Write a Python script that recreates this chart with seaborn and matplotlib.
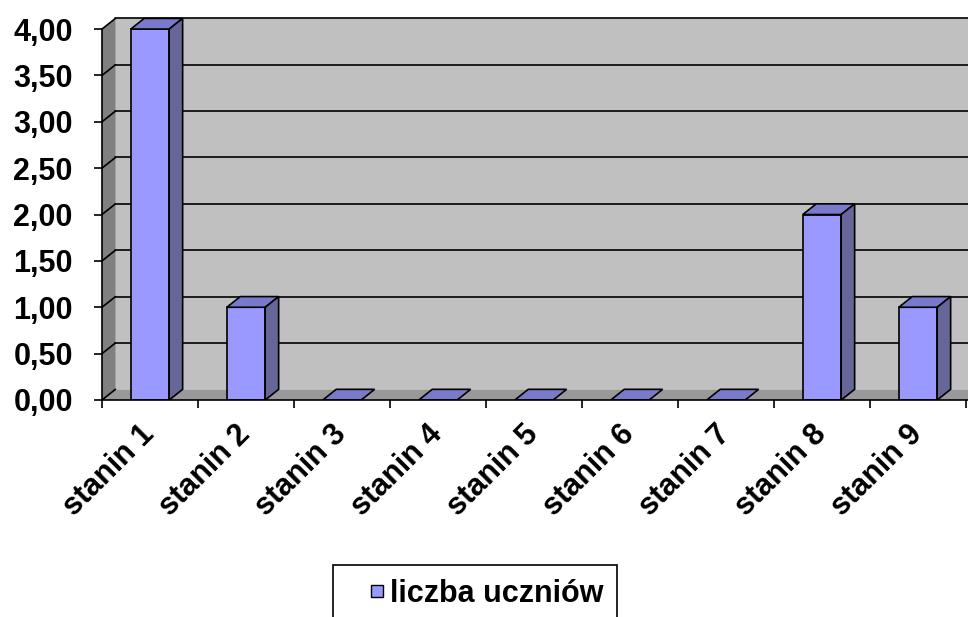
import numpy as np
import seaborn as sns
import matplotlib.pyplot as plt
import matplotlib.transforms as mtrans
from matplotlib.patches import Polygon, Rectangle
from matplotlib.lines import Line2D
from matplotlib.colors import to_rgb
from matplotlib.ticker import FuncFormatter

categories = ['stanin 1', 'stanin 2', 'stanin 3', 'stanin 4', 'stanin 5',
              'stanin 6', 'stanin 7', 'stanin 8', 'stanin 9']
values = [4, 1, 0, 0, 0, 0, 0, 2, 1]
series_name = 'liczba uczniów'
y_ticks = [0, 0.5, 1, 1.5, 2, 2.5, 3, 3.5, 4]

sns.set_style('white', {'text.color': 'black', 'xtick.color': 'black',
                        'ytick.color': 'black', 'axes.labelcolor': 'black'})
plt.rcParams['font.family'] = ['Liberation Sans', 'DejaVu Sans']
plt.rcParams['font.weight'] = 'bold'

front = '#9999FF'
side = '#666699'
top = '#7A7ACC'
dx, dy = 0.14, 0.115   # depth offset in data units
fs = 22

fig = plt.figure(figsize=(9.68, 6.17), dpi=100)
ax = fig.add_axes([102 / 968, 217 / 617, 866 / 968, 389.5 / 617])

sns.barplot(x=categories, y=values, color=front, width=0.4, edgecolor='black',
            linewidth=1.2, saturation=1, ax=ax, zorder=3)

ax.set_xlim(-0.5, -0.5 + 866 / 96)
ax.set_ylim(0, 4.2)

# walls and floor
right = 10
ax.add_patch(Rectangle((-0.5 + dx, dy), right, 4, facecolor='#C0C0C0',
                       edgecolor='none', zorder=0))
ax.add_patch(Polygon([(-0.5, 0), (-0.5 + dx, dy), (-0.5 + dx, 4 + dy), (-0.5, 4)],
                     facecolor='#808080', edgecolor='none', zorder=0))
ax.add_patch(Polygon([(-0.5, 0), (right, 0), (right + dx, dy), (-0.5 + dx, dy)],
                     facecolor='#999999', edgecolor='none', zorder=1))
for v in y_ticks:
    ax.plot([-0.5, -0.5 + dx], [v, v + dy], color='black', lw=1.2, zorder=1)
    if v > 0:
        ax.plot([-0.5 + dx, right], [v + dy, v + dy], color='black', lw=1.2, zorder=1)

# 3d faces of bars
for p in ax.patches[:]:
    if not isinstance(p, Rectangle) or tuple(p.get_facecolor()[:3]) != to_rgb(front):
        continue
    x0, w, h = p.get_x(), p.get_width(), p.get_height()
    ax.add_patch(Polygon([(x0, h), (x0 + w, h), (x0 + w + dx, h + dy), (x0 + dx, h + dy)],
                         facecolor=top, edgecolor='black', lw=1.2, zorder=3))
    if h > 0:
        ax.add_patch(Polygon([(x0 + w, 0), (x0 + w + dx, dy), (x0 + w + dx, h + dy), (x0 + w, h)],
                             facecolor=side, edgecolor='black', lw=1.2, zorder=3))

# axes lines and ticks
for s in ['top', 'right']:
    ax.spines[s].set_visible(False)
for s in ['left', 'bottom']:
    ax.spines[s].set_color('black')
    ax.spines[s].set_linewidth(1.2)
    ax.spines[s].set_zorder(4)
ax.spines['left'].set_bounds(0, 4)

ax.set_yticks(y_ticks)
ax.yaxis.set_major_formatter(FuncFormatter(lambda v, p: f'{v:.2f}'.replace('.', ',')))
ax.tick_params(axis='y', direction='out', length=6, width=1.2, color='black',
               labelsize=fs, pad=15, left=True)
ax.set_xticks(range(len(categories)))
ax.set_xticklabels(categories, rotation=45, ha='right', rotation_mode='anchor')
ax.set_xticks(np.arange(-0.5, len(categories)), minor=True)
ax.tick_params(axis='x', which='major', length=0, labelsize=fs, pad=14)
ax.tick_params(axis='x', which='minor', direction='out', length=6, width=1.2,
               color='black', bottom=True)
for lab in ax.get_xticklabels() + ax.get_yticklabels():
    lab.set_fontweight('bold')
off = mtrans.ScaledTranslation(-0.11, 0, fig.dpi_scale_trans)
for lab in ax.get_xticklabels():
    lab.set_transform(lab.get_transform() + off)
ax.set_xlabel('')
ax.set_ylabel('')
ax.grid(False)

handle = Line2D([], [], linestyle='none', marker='s', markersize=8,
                markerfacecolor=front, markeredgecolor='black', markeredgewidth=1)
leg = fig.legend(handles=[handle], labels=[series_name], loc='upper left',
                 bbox_to_anchor=(333 / 968, 1 - 565 / 617), borderaxespad=0,
                 frameon=True, fancybox=False, edgecolor='black', framealpha=1,
                 prop={'size': fs, 'weight': 'bold'}, borderpad=0.45,
                 handlelength=2.0, handletextpad=-0.6)
leg.get_frame().set_linewidth(1.2)

fig.savefig('out.png', dpi=100, facecolor='white')
